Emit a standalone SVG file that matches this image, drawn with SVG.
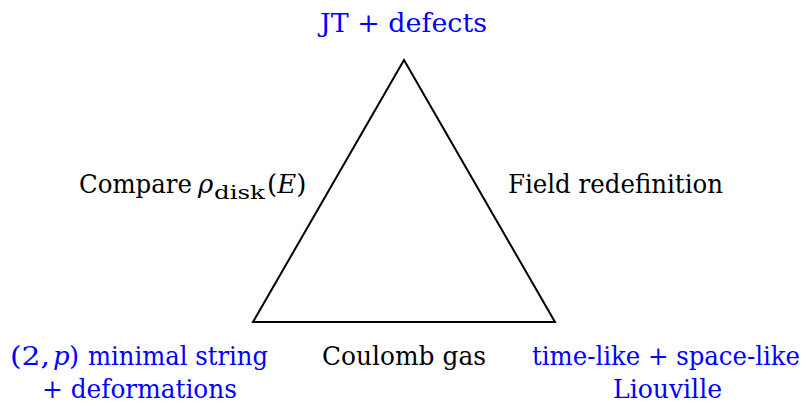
<svg xmlns="http://www.w3.org/2000/svg" width="806" height="406" viewBox="0 0 806 406">
<style>
text{font-size:26px;font-family:"DejaVu Serif",serif;}
.b{fill:#0000ff;}
.k{fill:#000000;}
.i{font-style:italic;}
.s{font-size:19px;}
</style>
<rect width="806" height="406" fill="#ffffff"/>
<g id="connectors">
<polygon points="404,60 253,322 555,322" fill="none" stroke="#000" stroke-width="2" stroke-linejoin="miter"/>
</g>
<g id="node-top">
<text class="b" x="320" y="32" textLength="167" lengthAdjust="spacingAndGlyphs">JT + defects</text>
</g>
<g id="node-left">
<text class="b" x="10" y="365"><tspan textLength="40" lengthAdjust="spacingAndGlyphs">(2,</tspan><tspan class="i" x="53">p</tspan><tspan x="69">)</tspan><tspan x="88" textLength="180" lengthAdjust="spacingAndGlyphs">minimal string</tspan></text>
<text class="b" x="42" y="398" textLength="195" lengthAdjust="spacingAndGlyphs">+ deformations</text>
</g>
<g id="node-right">
<text class="b" x="532" y="365" textLength="268" lengthAdjust="spacingAndGlyphs">time-like + space-like</text>
<text class="b" x="613" y="398" textLength="109" lengthAdjust="spacingAndGlyphs">Liouville</text>
</g>
<g id="edge-labels">
<text class="k" x="79" y="193"><tspan textLength="113" lengthAdjust="spacingAndGlyphs">Compare</tspan><tspan class="i" x="198">ρ</tspan><tspan class="s" x="214" y="199" textLength="51" lengthAdjust="spacingAndGlyphs">disk</tspan><tspan x="267" y="193">(</tspan><tspan class="i">E</tspan><tspan>)</tspan></text>
<text class="k" x="508" y="193" textLength="215" lengthAdjust="spacingAndGlyphs">Field redefinition</text>
<text class="k" x="322" y="365" textLength="164" lengthAdjust="spacingAndGlyphs">Coulomb gas</text>
</g>
</svg>
